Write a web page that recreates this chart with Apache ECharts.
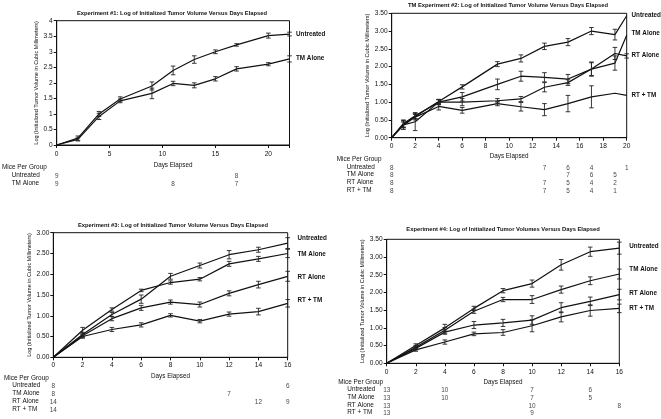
<!DOCTYPE html>
<html>
<head>
<meta charset="utf-8">
<script src="https://cdn.jsdelivr.net/npm/echarts@6/dist/echarts.min.js"></script>
<style>html,body{margin:0;padding:0;background:#fff}#c{width:661px;height:419px}</style>
</head>
<body>
<div id="c"></div>
<script>
// ---------------- DATA ----------------
const groupNames = ['Untreated', 'TM Alone', 'RT Alone', 'RT + TM'];

// Experiment #1
const days1 = [0, 2, 4, 6, 9, 11, 13, 15, 17, 20, 22];
const e1Untreated = [0, 0.22, 1.0, 1.48, 1.9, 2.4, 2.75, 3.0, 3.22, 3.52, 3.57];
const e1UntreatedErr = [0, 0.07, 0.08, 0.07, 0.13, 0.14, 0.12, 0.06, 0.04, 0.08, 0.06];
const e1TM = [0, 0.18, 0.92, 1.42, 1.66, 1.98, 1.92, 2.13, 2.45, 2.6, 2.77];
const e1TMErr = [0, 0.05, 0.1, 0.06, 0.17, 0.07, 0.08, 0.07, 0.07, 0.05, 0.1];
const e1Mice = [[[0, 9], [17, 8]], [[0, 9], [11, 8], [17, 7]]];

// Experiment #2
const days2 = [0, 1, 2, 4, 6, 9, 11, 13, 15, 17, 19, 20];
const e2Untreated = [0, 0.38, 0.6, 1.02, 1.43, 2.07, 2.23, 2.57, 2.69, 3.0, 2.9, 3.43];
const e2UntreatedErr = [0, 0.1, 0.07, 0.06, 0.06, 0.07, 0.1, 0.09, 0.1, 0.1, 0.15, 0];
const e2TM = [0, 0.4, 0.62, 1.0, 1.15, 1.5, 1.73, 1.7, 1.65, 1.93, 2.1, 2.88];
const e2TMErr = [0, 0.1, 0.08, 0.07, 0.12, 0.15, 0.14, 0.13, 0.13, 0.2, 0.2, 0];
const e2RT = [0, 0.36, 0.45, 1.0, 1.0, 1.04, 1.09, 1.42, 1.55, 1.93, 2.37, 2.3];
const e2RTErr = [0, 0.08, 0.25, 0.07, 0.1, 0.06, 0.07, 0.13, 0.08, 0.18, 0.17, 0.06];
const e2RTTM = [0, 0.35, 0.58, 0.88, 0.77, 0.96, 0.87, 0.79, 0.96, 1.15, 1.25, 1.19];
const e2RTTMErr = [0, 0.12, 0.08, 0.1, 0.08, 0.06, 0.12, 0.17, 0.23, 0.31, 0, 0];
const e2Mice = [
  [[0, 8], [13, 7], [15, 6], [17, 4], [20, 1]],
  [[0, 8], [15, 7], [17, 6], [19, 5], [20.3, 1]],
  [[0, 8], [13, 7], [15, 5], [17, 4], [19, 2]],
  [[0, 8], [13, 7], [15, 5], [17, 4], [19, 1]]
];

// Experiment #3
const days3 = [0, 2, 4, 6, 8, 10, 12, 14, 16];
const e3Untreated = [0, 0.55, 1.03, 1.4, 1.95, 2.21, 2.47, 2.59, 2.75];
const e3UntreatedErr = [0, 0.05, 0.05, 0.1, 0.07, 0.06, 0.1, 0.06, 0.13];
const e3TM = [0, 0.65, 1.15, 1.61, 1.8, 1.88, 2.25, 2.37, 2.5];
const e3TMErr = [0, 0.07, 0.04, 0.03, 0.04, 0.04, 0.06, 0.06, 0.1];
const e3RT = [0, 0.52, 0.93, 1.19, 1.33, 1.27, 1.54, 1.75, 1.95];
const e3RTErr = [0, 0.04, 0.05, 0.06, 0.05, 0.06, 0.06, 0.08, 0.12];
const e3RTTM = [0, 0.5, 0.67, 0.78, 1.01, 0.87, 1.04, 1.1, 1.3];
const e3RTTMErr = [0, 0.04, 0.05, 0.05, 0.04, 0.04, 0.05, 0.08, 0.09];
const e3Mice = [
  [[0, 8], [16, 6]],
  [[0, 8], [12, 7]],
  [[0, 14], [14, 12], [16, 9]],
  [[0, 14]]
];

// Experiment #4
const days4 = [0, 2, 4, 6, 8, 10, 12, 14, 16];
const e4Untreated = [0, 0.5, 1.0, 1.55, 2.05, 2.25, 2.78, 3.15, 3.25];
const e4UntreatedErr = [0, 0.05, 0.1, 0.06, 0.06, 0.1, 0.15, 0.13, 0.17];
const e4TM = [0, 0.45, 0.93, 1.47, 1.8, 1.8, 2.08, 2.33, 2.52];
const e4TMErr = [0, 0.05, 0.08, 0.06, 0.06, 0.11, 0.1, 0.11, 0.14];
const e4RT = [0, 0.42, 0.88, 1.08, 1.14, 1.22, 1.57, 1.75, 1.94];
const e4RTErr = [0, 0.04, 0.06, 0.1, 0.1, 0.12, 0.14, 0.12, 0.15];
const e4RTTM = [0, 0.38, 0.6, 0.83, 0.87, 1.06, 1.31, 1.49, 1.55];
const e4RTTMErr = [0, 0.04, 0.06, 0.05, 0.08, 0.17, 0.14, 0.16, 0.12];
const e4Mice = [
  [[0, 13], [4, 10], [10, 7], [14, 6]],
  [[0, 13], [4, 10], [10, 7], [14, 5]],
  [[0, 13], [10, 10], [16, 8]],
  [[0, 13], [10, 9]]
];

const titles = [
  'Experiment #1: Log of Initialized Tumor Volume Versus Days Elapsed',
  'TM Experiment #2: Log of Initialized Tumor Volume Versus Days Elapsed',
  'Experiment #3: Log of Initialized Tumor Volume Versus Days Elapsed',
  'Experiment #4: Log of Initialized Tumor Volumes Versus Days Elapsed'
];
const yName = 'Log (Initialized Tumor Volume in Cubic Millimeters)';
const xName = 'Days Elapsed';
const tableHeader = 'Mice Per Group';

// ---------------- LAYOUT ----------------
const FONT = '"Liberation Sans", Arial, sans-serif';
const panels = [
  { grid: { left: 56.7, top: 20.7, width: 232.8, height: 124.3 },
    xMax: 22, xInt: 5, yMax: 4, yInt: 0.5, yDec: false,
    series: [[e1Untreated, e1UntreatedErr], [e1TM, e1TMErr]], days: days1, groups: [0, 1],
    labels: [[296, 35], [296, 59]],
    title: [172, 13], xNameGap: 17, xLabelMargin: 6, yNameGap: 16,
    table: { top: 176, height: 8, header: [2, 168.3], rowX: 11.7 }, mice: e1Mice },
  { grid: { left: 391.7, top: 13.3, width: 235, height: 124.4 },
    xMax: 20, xInt: 2, yMax: 3.5, yInt: 0.5, yDec: true,
    series: [[e2Untreated, e2UntreatedErr], [e2TM, e2TMErr], [e2RT, e2RTErr], [e2RTTM, e2RTTMErr]], days: days2, groups: [0, 1, 2, 3],
    labels: [[631.5, 16.7], [631.5, 34.3], [631.5, 56.7], [631.5, 96.7]],
    title: [508, 5.5], xNameGap: 16, xLabelMargin: 5, yNameGap: 19,
    table: { top: 168, height: 23, header: [336.7, 160], rowX: 346.7 }, mice: e2Mice },
  { grid: { left: 53.3, top: 232.7, width: 234.4, height: 124.6 },
    xMax: 16, xInt: 2, yMax: 3, yInt: 0.5, yDec: true,
    series: [[e3Untreated, e3UntreatedErr], [e3TM, e3TMErr], [e3RT, e3RTErr], [e3RTTM, e3RTTMErr]], days: days3, groups: [0, 1, 2, 3],
    labels: [[297.5, 239], [297.5, 255], [297.5, 278.3], [297.5, 301.7]],
    title: [173, 225], xNameGap: 16, xLabelMargin: 4.5, yNameGap: 20,
    table: { top: 386, height: 24, header: [4, 379], rowX: 12.3 }, mice: e3Mice },
  { grid: { left: 386.7, top: 239.3, width: 232.6, height: 124 },
    xMax: 16, xInt: 2, yMax: 3.5, yInt: 0.5, yDec: true,
    series: [[e4Untreated, e4UntreatedErr], [e4TM, e4TMErr], [e4RT, e4RTErr], [e4RTTM, e4RTTMErr]], days: days4, groups: [0, 1, 2, 3],
    labels: [[629.3, 247.7], [629.3, 270.7], [629.3, 294.3], [629.3, 309.3]],
    title: [503, 229.5], xNameGap: 16, xLabelMargin: 5.5, yNameGap: 18,
    table: { top: 390.7, height: 23, header: [338.3, 383], rowX: 347.3 }, mice: e4Mice }
];

const grids = [], xAxes = [], yAxes = [], series = [], graphics = [];
const INK = '#111';

panels.forEach((p, pi) => {
  grids.push(Object.assign({ show: true, borderColor: INK, borderWidth: 1, backgroundColor: 'transparent' }, p.grid));
  const gi = grids.length - 1;
  xAxes.push({
    type: 'value', gridIndex: gi, min: 0, max: p.xMax, interval: p.xInt,
    name: xName, nameLocation: 'middle', nameGap: p.xNameGap,
    nameTextStyle: { fontFamily: FONT, fontSize: 6.3, color: INK },
    axisLine: { show: true, lineStyle: { color: INK, width: 1 } },
    axisTick: { show: true, length: 3, lineStyle: { color: INK } },
    axisLabel: { fontFamily: FONT, fontSize: 6.6, color: INK, margin: p.xLabelMargin,
      formatter: v => (Math.abs(v / p.xInt - Math.round(v / p.xInt)) < 1e-6 ? String(v) : '') },
    splitLine: { show: false }
  });
  yAxes.push({
    type: 'value', gridIndex: gi, min: 0, max: p.yMax, interval: p.yInt,
    name: yName, nameLocation: 'middle', nameGap: p.yNameGap,
    nameTextStyle: { fontFamily: FONT, fontSize: 5.5, color: INK },
    axisLine: { show: true, lineStyle: { color: INK, width: 1 } },
    axisTick: { show: true, length: 3, lineStyle: { color: INK } },
    axisLabel: { fontFamily: FONT, fontSize: 6.6, color: INK, margin: 4,
      formatter: v => (p.yDec ? v.toFixed(2) : String(v)) },
    splitLine: { show: false }
  });
  const xi = xAxes.length - 1, yi = yAxes.length - 1;

  p.series.forEach(([vals, errs], si) => {
    const name = groupNames[p.groups[si]];
    series.push({
      type: 'line', name: name, xAxisIndex: xi, yAxisIndex: yi,
      data: p.days.map((d, k) => [d, vals[k]]),
      showSymbol: false, symbol: 'none',
      lineStyle: { color: INK, width: 1.2 }, z: 3, silent: true
    });
    series.push({
      type: 'custom', name: name + ' err', xAxisIndex: xi, yAxisIndex: yi,
      data: p.days.map((d, k) => [d, vals[k], errs[k]]),
      encode: { x: 0, y: 1 }, z: 4, silent: true,
      renderItem: (params, api) => {
        const x = api.value(0), y = api.value(1), e = api.value(2);
        if (!e) return { type: 'group', children: [] };
        const t = api.coord([x, y + e]), b = api.coord([x, y - e]);
        const w = 2.3;
        const st = { stroke: '#222', lineWidth: 0.9 };
        return { type: 'group', children: [
          { type: 'line', shape: { x1: t[0], y1: t[1], x2: b[0], y2: b[1] }, style: st },
          { type: 'line', shape: { x1: t[0] - w, y1: t[1], x2: t[0] + w, y2: t[1] }, style: st },
          { type: 'line', shape: { x1: b[0] - w, y1: b[1], x2: b[0] + w, y2: b[1] }, style: st }
        ] };
      }
    });
    graphics.push({ type: 'text', left: p.labels[si][0], top: p.labels[si][1] - 4,
      style: { text: name, fontFamily: FONT, fontSize: 6.3, fontWeight: 'bold', fill: INK } });
  });

  // title
  graphics.push({ type: 'text', x: p.title[0], y: p.title[1],
    style: { text: titles[pi], fontFamily: FONT, fontSize: 5.8, fontWeight: 'bold', fill: INK,
      textAlign: 'center', textVerticalAlign: 'middle' } });

  // mice table
  const nRows = p.mice.length;
  grids.push({ left: p.grid.left, width: p.grid.width, top: p.table.top, height: p.table.height, show: false });
  const tgi = grids.length - 1;
  xAxes.push({ type: 'value', gridIndex: tgi, min: 0, max: p.xMax, show: false });
  yAxes.push({ type: 'value', gridIndex: tgi, min: 0, max: Math.max(1, nRows - 1), inverse: true, show: false });
  const txi = xAxes.length - 1, tyi = yAxes.length - 1;
  const tdata = [];
  p.mice.forEach((row, ri) => row.forEach(([d, n]) => tdata.push([d, ri, n])));
  series.push({
    type: 'scatter', xAxisIndex: txi, yAxisIndex: tyi, symbolSize: 0.1, silent: true,
    data: tdata,
    label: { show: true, position: 'inside', formatter: prm => String(prm.value[2]),
      fontFamily: FONT, fontSize: 6.4, color: INK }
  });
  graphics.push({ type: 'text', left: p.table.header[0], top: p.table.header[1] - 4,
    style: { text: tableHeader, fontFamily: FONT, fontSize: 6.4, fill: INK } });
  const rowStep = nRows > 1 ? p.table.height / (nRows - 1) : 0;
  for (let ri = 0; ri < nRows; ri++) {
    graphics.push({ type: 'text', left: p.table.rowX, top: p.table.top + ri * rowStep - 4,
      style: { text: groupNames[p.groups[ri]], fontFamily: FONT, fontSize: 6.4, fill: INK } });
  }
});

const chart = echarts.init(document.getElementById('c'), null, { renderer: 'canvas' });
chart.setOption({
  backgroundColor: '#fff',
  animation: false,
  grid: grids, xAxis: xAxes, yAxis: yAxes, series: series,
  graphic: graphics
});
</script>
</body>
</html>
